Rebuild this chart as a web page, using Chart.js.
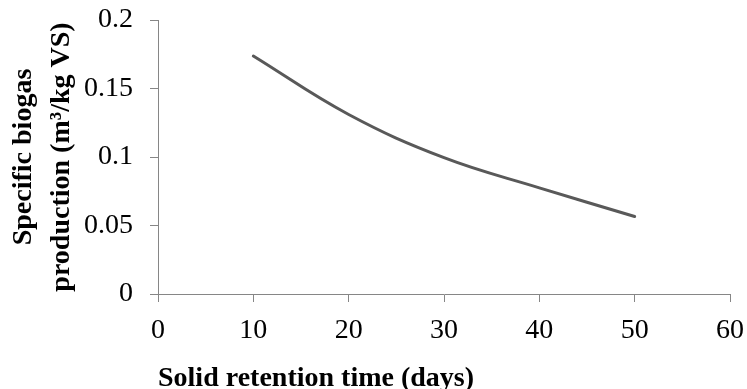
<!DOCTYPE html>
<html>
<head>
<meta charset="utf-8">
<script src="https://cdn.jsdelivr.net/npm/chart.js@4"></script>
<style>
  html, body { margin: 0; padding: 0; background: #fff; }
  #wrap { width: 747px; height: 389px; position: relative; }
</style>
</head>
<body>
<div id="wrap"><canvas id="srtChart" width="747" height="389"></canvas></div>
<script>
// ── Data ────────────────────────────────────────────────────
const retentionDays = [10, 20, 30, 40, 50];
const biogasYield = [0.1737, 0.131, 0.0995, 0.0775, 0.0566];
const xTickLabels = ["0", "10", "20", "30", "40", "50", "60"];
const yTickLabels = ["0", "0.05", "0.1", "0.15", "0.2"];

const SERIF = '"Liberation Serif", "Times New Roman", serif';
const AXIS_GREY = "#868686";

const ctx = document.getElementById("srtChart").getContext("2d");

new Chart(ctx, {
  type: "line",
  data: {
    datasets: [{
      data: retentionDays.map((d, i) => ({ x: d, y: biogasYield[i] })),
      borderColor: "#595959",
      borderWidth: 3,
      borderCapStyle: "round",
      pointRadius: 0,
      tension: 0.4,
      fill: false
    }]
  },
  options: {
    responsive: false,
    animation: false,
    layout: { padding: { top: 20, right: 17, left: 0, bottom: -7 } },
    plugins: { legend: { display: false }, tooltip: { enabled: false } },
    scales: {
      x: {
        type: "linear",
        min: 0,
        max: 60,
        // fixed axis box; label overflow handled by layout padding
        afterFit: (s) => {
          s.height = 102;
          s.paddingLeft = 0;
          s.paddingRight = 0;
        },
        ticks: {
          stepSize: 10,
          color: "#000",
          padding: 12,
          font: { family: SERIF, size: 28 },
          callback: (v) => xTickLabels[Math.round(v / 10)]
        },
        grid: { drawOnChartArea: false, drawTicks: true, tickLength: 8, color: AXIS_GREY },
        border: { display: true, color: AXIS_GREY, width: 1 },
        title: {
          display: true,
          text: "Solid retention time (days)",
          align: "start",
          color: "#000",
          padding: { top: 0, bottom: 0 },
          font: { family: SERIF, size: 28, weight: "bold" }
        }
      },
      y: {
        min: 0,
        max: 0.2,
        afterFit: (s) => {
          s.width = 158;
          s.paddingTop = 0;
          s.paddingBottom = 0;
        },
        ticks: {
          stepSize: 0.05,
          color: "#000",
          padding: 17,
          font: { family: SERIF, size: 28 },
          callback: (v) => yTickLabels[Math.round(v / 0.05)]
        },
        grid: { drawOnChartArea: false, drawTicks: true, tickLength: 8, color: AXIS_GREY },
        border: { display: true, color: AXIS_GREY, width: 1 },
        title: {
          display: true,
          text: ["Specific biogas", "production (m\u00B3/kg VS)"],
          color: "#000",
          padding: { top: 5, bottom: 0 },
          font: { family: SERIF, size: 28, weight: "bold", lineHeight: 1.35 }
        }
      }
    }
  }
});
</script>
</body>
</html>
